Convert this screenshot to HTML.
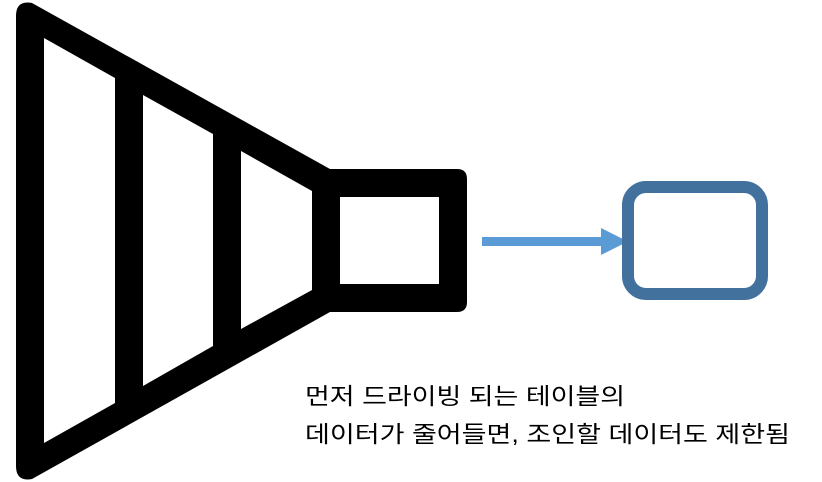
<!DOCTYPE html>
<html><head><meta charset="utf-8"><style>
html,body{margin:0;padding:0;background:#fff;}
svg{display:block;}
text{font-family:"Liberation Sans","Noto Sans CJK KR","NanumGothic",sans-serif;font-size:23px;fill:#000;}
</style></head><body>
<svg width="822" height="482" viewBox="0 0 822 482" xmlns="http://www.w3.org/2000/svg">
<path d="M16,16 Q16,0 32,3 L330,169 L457,169 Q467,169 467,179 L467,302 Q467,312 457,312 L330,312 L32,479 Q16,482 16,466 Z" fill="#000"/>
<polygon points="44,38 115,78 115,403 44,443" fill="#fff"/>
<polygon points="143,95 213,134 213,346 143,386" fill="#fff"/>
<polygon points="241,151 312,191 312,290 241,329" fill="#fff"/>
<rect x="340" y="197" width="99" height="87" fill="#fff"/>
<rect x="482" y="237" width="121" height="9" fill="#5b9bd5"/>
<polygon points="601,228 628,241.5 601,255" fill="#5b9bd5"/>
<rect x="628" y="187" width="134" height="107" rx="18" ry="18" fill="none" stroke="#41719c" stroke-width="12"/>
<text x="305" y="404" textLength="320" lengthAdjust="spacingAndGlyphs">먼저 드라이빙 되는 테이블의</text>
<text x="305" y="442" textLength="485" lengthAdjust="spacingAndGlyphs">데이터가 줄어들면, 조인할 데이터도 제한됨</text>
</svg>
</body></html>
